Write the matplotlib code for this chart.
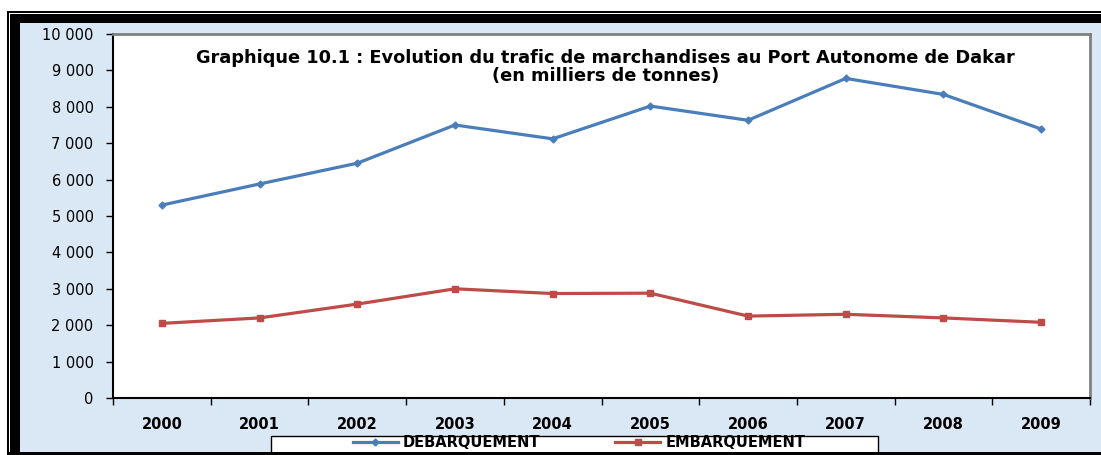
import matplotlib.pyplot as plt
from matplotlib.patches import Rectangle
from matplotlib.ticker import FuncFormatter, FixedLocator

years = ["2000", "2001", "2002", "2003", "2004", "2005", "2006", "2007", "2008", "2009"]
debarquement = [5300, 5880, 6450, 7500, 7120, 8020, 7630, 8780, 8340, 7390]
embarquement = [2050, 2200, 2580, 3000, 2870, 2880, 2250, 2300, 2200, 2080]

W, H = 1101, 455
plt.rcParams["font.family"] = ["DejaVu Sans"]

fig = plt.figure(figsize=(W / 100, H / 100), dpi=100, facecolor="white")


def px_rect(x0, y0, x1, y1, **kw):
    # rectangle given in pixel coords (origin top-left)
    return Rectangle((x0 / W, 1 - y1 / H), (x1 - x0) / W, (y1 - y0) / H,
                     transform=fig.transFigure, **kw)


# light blue backdrop and black frame
fig.patches.append(px_rect(20, 23, W, 452, facecolor="#dae8f6", edgecolor="none", zorder=0))
fig.patches.append(px_rect(7, 11, W, 12.5, facecolor="black", edgecolor="none", zorder=0))
fig.patches.append(px_rect(7, 11, 8.5, H, facecolor="black", edgecolor="none", zorder=0))
fig.patches.append(px_rect(10, 14.5, W, 23, facecolor="black", edgecolor="none", zorder=0))
fig.patches.append(px_rect(10, 14.5, 20, H, facecolor="black", edgecolor="none", zorder=0))
# legend box
fig.patches.append(px_rect(271, 436, 878, 454, facecolor="white", edgecolor="black",
                           linewidth=1, zorder=1))

left, right, top, bottom = 113, 1090, 34, 398
ax = fig.add_axes([left / W, 1 - bottom / H, (right - left) / W, (bottom - top) / H])
ax.set_facecolor("white")
ax.set_zorder(2)

x = list(range(len(years)))
ax.plot(x, debarquement, color="#4a7ebb", linewidth=2.3, marker="D", markersize=3.5,
        label="DEBARQUEMENT")
ax.plot(x, embarquement, color="#be4b48", linewidth=2.3, marker="s", markersize=5,
        label="EMBARQUEMENT")

ax.set_xlim(-0.5, len(years) - 0.5)
ax.set_ylim(0, 10000)
ax.set_yticks(range(0, 10001, 1000))
ax.yaxis.set_major_formatter(FuncFormatter(lambda v, p: f"{int(v):,}".replace(",", " ")))

ax.xaxis.set_major_locator(FixedLocator([i - 0.5 for i in range(len(years) + 1)]))
ax.xaxis.set_minor_locator(FixedLocator(x))
ax.set_xticklabels([])
ax.set_xticklabels(years, minor=True, fontweight="bold", fontsize=10.5)
ax.tick_params(axis="x", which="major", length=5, width=1, direction="out")
ax.tick_params(axis="x", which="minor", length=0, pad=14)
ax.tick_params(axis="y", length=5, width=1, pad=9, labelsize=10.5)

for s in ["top", "right"]:
    ax.spines[s].set_color("#808080")
    ax.spines[s].set_linewidth(2)
for s in ["left", "bottom"]:
    ax.spines[s].set_color("black")
    ax.spines[s].set_linewidth(1.5)

ax.text(0.504, 0.958,
        "Graphique 10.1 : Evolution du trafic de marchandises au Port Autonome de Dakar\n"
        "(en milliers de tonnes)",
        transform=ax.transAxes, ha="center", va="top", fontsize=12.8, fontweight="bold",
        linespacing=0.95)

leg = fig.legend(loc="center", bbox_to_anchor=(579 / W, 1 - 442.5 / H), ncol=2,
                 handlelength=3.1, columnspacing=5.1, handletextpad=0.35,
                 frameon=False, borderpad=0.0,
                 prop={"size": 10.5, "weight": "bold"})
leg.set_zorder(3)

# bottom black band drawn over legend
fig.add_artist(px_rect(7, 451.5, W, H, facecolor="black", edgecolor="none", zorder=5))

fig.savefig("out.png", dpi=100, facecolor="white")
